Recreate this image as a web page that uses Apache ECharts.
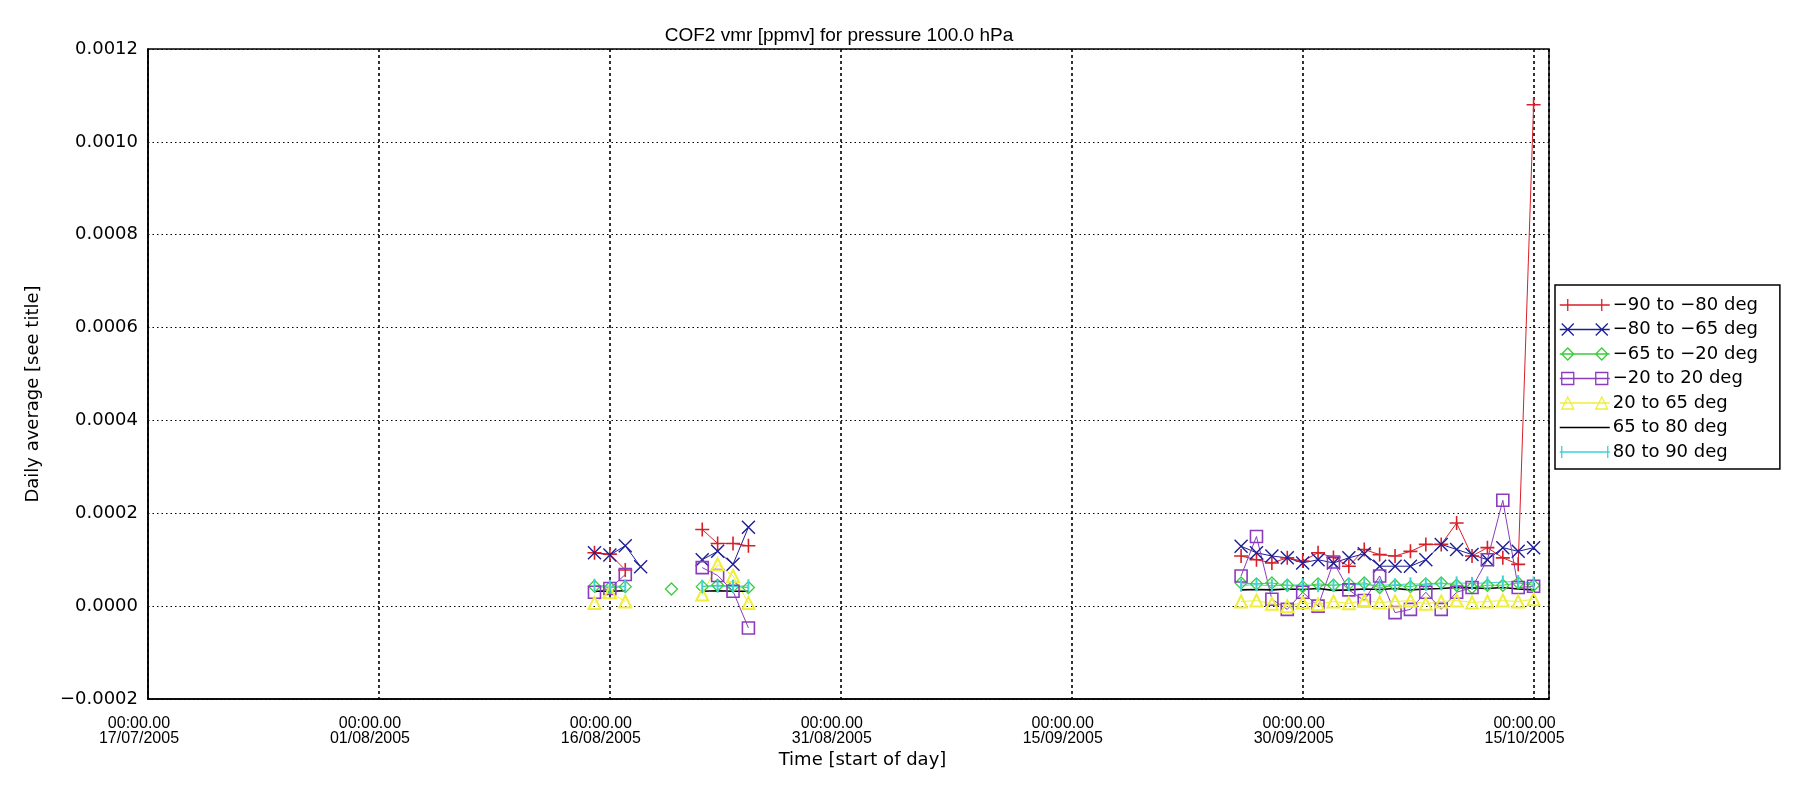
<!DOCTYPE html>
<html>
<head>
<meta charset="utf-8">
<script src="https://cdn.jsdelivr.net/npm/echarts@6/dist/echarts.min.js"></script>
<style>
  html, body { margin: 0; padding: 0; background: #fff; }
  #chart { width: 1801px; height: 785px; }
</style>
</head>
<body>
<div id="chart"></div>
<script>
// days with data (start of day)
var dates = ['2005-08-15','2005-08-16','2005-08-17','2005-08-18','2005-08-20',
  '2005-08-22','2005-08-23','2005-08-24','2005-08-25',
  '2005-09-26','2005-09-27','2005-09-28','2005-09-29','2005-09-30',
  '2005-10-01','2005-10-02','2005-10-03','2005-10-04','2005-10-05',
  '2005-10-06','2005-10-07','2005-10-08','2005-10-09','2005-10-10',
  '2005-10-11','2005-10-12','2005-10-13','2005-10-14','2005-10-15'];

var names = ['\u221290 to \u221280 deg', '\u221280 to \u221265 deg', '\u221265 to \u221220 deg',
  '\u221220 to 20 deg', '20 to 65 deg', '65 to 80 deg', '80 to 90 deg'];

var band1 = [0.000115, 0.000112, 0.000078, null, null, 0.000165, 0.000135, 0.000135, 0.00013,
  0.000108, 0.0001, 0.000093, 0.000104, 0.000097, 0.000115, 0.000105, 0.000086, 0.000122, 0.000111,
  0.000108, 0.000118, 0.000133, 0.000133, 0.000179, 0.000108, 0.000126, 0.000104, 0.00009, 0.00108];
var band2 = [0.000115, 0.00011, 0.00013, 0.000085, null, 0.0001, 0.000118, 0.00009, 0.00017,
  0.000129, 0.000115, 0.000108, 0.000104, 0.000093, 0.0001, 0.000093, 0.000104, 0.000113, 0.000086,
  0.000086, 0.000086, 0.0001, 0.000133, 0.000122, 0.000111, 0.0001, 0.000126, 0.000118, 0.000126];
var band3 = [0.000043, 0.00004, 0.000042, null, 0.000037, 0.000042, 0.000045, 0.000043, 0.00004,
  0.00005, 0.000048, 0.00005, 0.000045, 0.000042, 0.000048, 0.000045, 0.000048, 0.00005, 0.00004,
  0.000045, 0.000042, 0.000048, 0.00005, 0.000045, 0.00004, 0.000045, 0.000045, 0.00005, 0.000045];
var band4 = [0.00003, 0.000038, 0.000068, null, null, 0.000083, 0.000066, 0.000032, -0.000047,
  0.000065, 0.00015, 0.000015, -0.000007, 0.00003, 0.0, 0.000095, 0.000035, 0.000012, 0.000065,
  -0.000014, -0.000007, 0.00003, -0.000007, 0.00003, 0.00004, 0.0001, 0.000228, 0.00004, 0.000043];
var band5 = [0.000007, 0.00003, 0.00001, null, null, 0.000025, 0.00009, 0.000065, 0.000007,
  0.00001, 0.000012, 0.000005, 0.0, 0.000008, 0.000004, 0.00001, 0.000006, 0.000012, 0.000008,
  0.00001, 0.000012, 0.000005, 0.00001, 0.000012, 0.000008, 0.00001, 0.000012, 0.00001, 0.000015];
var band6 = [0.000032, 0.000032, 0.000033, null, null, 0.000032, 0.000033, 0.000032, 0.000032,
  0.000035, 0.000036, 0.000035, 0.000037, 0.000036, 0.000038, 0.000034, 0.000035, 0.000037, 0.000036,
  0.000038, 0.000035, 0.000037, 0.000038, 0.00004, 0.000039, 0.000038, 0.00004, 0.000037, 0.000035];
var band7 = [0.000045, 0.000043, 0.000043, null, null, 0.000043, 0.000043, 0.000042, 0.000044,
  0.000045, 0.000046, 0.000044, 0.000045, 0.000046, 0.000044, 0.000045, 0.000047, 0.000046, 0.000045,
  0.000046, 0.000048, 0.000047, 0.000048, 0.00005, 0.000049, 0.00005, 0.000052, 0.000053, 0.00005];

var yTicks = [-0.0002, 0.0000, 0.0002, 0.0004, 0.0006, 0.0008, 0.0010, 0.0012];

var DAY = 86400000;
var T0 = Date.UTC(2005, 6, 17);

function dayOf(s) {
  var p = s.split('-');
  return (Date.UTC(+p[0], +p[1] - 1, +p[2]) - T0) / DAY;
}
var days = dates.map(dayOf);

// points, with a break wherever a day is missing
function toPoints(vals) {
  var out = [], prev = null;
  for (var i = 0; i < vals.length; i++) {
    if (vals[i] === null) continue;
    if (prev !== null && days[i] - days[prev] > 1) {
      out.push([(days[i] + days[prev]) / 2, null]);
    }
    out.push([days[i], vals[i]]);
    prev = i;
  }
  return out;
}

function pad(n) { return (n < 10 ? '0' : '') + n; }

var FONT = 'Liberation Sans';
var FONT2 = 'DejaVu Sans';
var NONE = 'rgba(0,0,0,0)';

var colors = ['#d8202a', '#1e1e96', '#3ccc3c', '#8a3cbe', '#f0ee3c', '#000000', '#3cd2d8'];

// legend icons: line with a marker at each end (50 x 15 box)
var BOX = 'M0,0M50,15M0,7.5H50';
var legendIcons = [
  BOX + 'M8,1.5V13.5M42,1.5V13.5',
  BOX + 'M2,1.5L14,13.5M14,1.5L2,13.5M36,1.5L48,13.5M48,1.5L36,13.5',
  BOX + 'M2,7.5L8,1.5L14,7.5L8,13.5ZM36,7.5L42,1.5L48,7.5L42,13.5Z',
  BOX + 'M2,1.5H14V13.5H2ZM36,1.5H48V13.5H36Z',
  BOX + 'M2,13.5L8,1.5L14,13.5ZM36,13.5L42,1.5L48,13.5Z',
  BOX,
  BOX + 'M2,1.5V13.5M48,1.5V13.5'
];

function mkSeries(i, vals, symbol, size, fill, bw, lw) {
  return {
    name: names[i],
    type: 'line',
    data: toPoints(vals),
    connectNulls: false,
    symbol: symbol,
    symbolSize: size,
    showAllSymbol: true,
    animation: false,
    lineStyle: { color: colors[i], width: lw || 1 },
    itemStyle: { color: fill, borderColor: colors[i], borderWidth: bw }
  };
}

var myChart = echarts.init(document.getElementById('chart'));
var option = {
  backgroundColor: '#fff',
  animation: false,
  title: {
    text: 'COF2 vmr [ppmv] for pressure 100.0 hPa',
    left: 834,
    top: 21,
    textAlign: 'center',
    textStyle: { fontFamily: FONT, fontSize: 19, fontWeight: 'normal', color: '#000' }
  },
  grid: {
    left: 148, right: 252, top: 49, bottom: 86,
    show: true, borderColor: '#000', borderWidth: 1.5
  },
  legend: {
    orient: 'vertical',
    left: 1555,
    top: 285,
    padding: [11, 22, 8, 4],
    itemGap: 6.5,
    itemWidth: 50,
    itemHeight: 15,
    borderColor: '#000',
    borderWidth: 1.5,
    textStyle: { fontFamily: FONT2, fontSize: 18, color: '#000', padding: [0, 0, 0, -2] },
    data: names.map(function (n, i) {
      return {
        name: n,
        icon: 'path://' + legendIcons[i],
        itemStyle: { color: NONE, borderColor: colors[i], borderWidth: i === 5 ? 1.5 : 1.3 }
      };
    })
  },
  xAxis: {
    type: 'value',
    min: 0,
    max: 91,
    interval: 15,
    name: 'Time [start of day]',
    nameLocation: 'middle',
    nameGap: 52,
    nameTextStyle: { fontFamily: FONT2, fontSize: 18, color: '#000', padding: [0, 0, 0, 28] },
    axisLine: { show: true, onZero: false, lineStyle: { color: '#000', width: 1.5 } },
    axisTick: { show: false },
    axisLabel: {
      showMaxLabel: false,
      margin: 17,
      fontFamily: FONT, fontSize: 16, color: '#000', lineHeight: 15,
      padding: [0, 18, 0, 0],
      formatter: function (v) {
        if (v % 15 !== 0) return '';
        var d = new Date(T0 + v * DAY);
        return '00:00.00\n' + pad(d.getUTCDate()) + '/' + pad(d.getUTCMonth() + 1) + '/' + d.getUTCFullYear();
      }
    },
    splitLine: { show: true, lineStyle: { color: '#000', width: 1.6, type: [3, 3] } }
  },
  yAxis: {
    type: 'value',
    min: yTicks[0],
    max: yTicks[yTicks.length - 1],
    interval: 0.0002,
    name: 'Daily average [see title]',
    nameLocation: 'middle',
    nameGap: 106,
    nameTextStyle: { fontFamily: FONT2, fontSize: 18, color: '#000', padding: [0, 40, 0, 0] },
    axisLine: { show: true, onZero: false, lineStyle: { color: '#000', width: 1.5 } },
    axisTick: { show: false },
    axisLabel: {
      margin: 10,
      fontFamily: FONT2, fontSize: 18, color: '#000',
      formatter: function (v) {
        var s = Math.abs(v).toFixed(4);
        return (v < -1e-9 ? '\u2212' : '') + s;
      }
    },
    splitLine: { show: true, lineStyle: { color: '#000', width: 1, type: [1.5, 3] } }
  },
  series: [
    mkSeries(0, band1, 'path://M5,0V10M0,5H10', 14, NONE, 1.6),
    mkSeries(1, band2, 'path://M0,0L10,10M10,0L0,10', 13, NONE, 1.4),
    mkSeries(2, band3, 'path://M5,0L10,5L5,10L0,5Z', 12, NONE, 1.3),
    mkSeries(3, band4, 'path://M0,0H10V10H0Z', 12, NONE, 1.6),
    mkSeries(4, band5, 'path://M5,0L10,10H0Z', 12, NONE, 2),
    mkSeries(5, band6, 'none', 0, '#000', 0, 1.6),
    mkSeries(6, band7, 'rect', [2, 13], colors[6], 0)
  ]
};
myChart.setOption(option);
</script>
</body>
</html>
